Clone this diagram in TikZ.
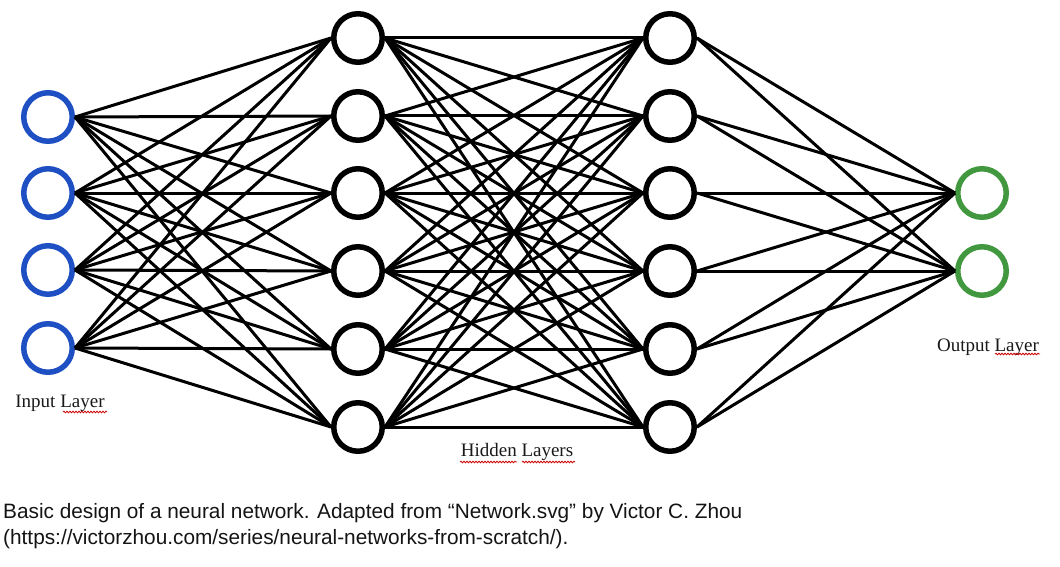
\documentclass[tikz,border=0pt]{standalone}
\usepackage{fontspec}
\setmainfont{Liberation Serif}
\newfontfamily\capfont{Liberation Sans}
\usetikzlibrary{positioning, decorations.pathmorphing}
\definecolor{inblue}{RGB}{30, 80, 196}
\definecolor{outgreen}{RGB}{66, 152, 62}
\definecolor{captext}{RGB}{20, 20, 20}
\tikzset{
  neuron/.style={circle, draw=black, line width=5.5pt, minimum size=48.5pt, inner sep=0pt, fill=white},
  inneuron/.style={neuron, draw=inblue},
  outneuron/.style={neuron, draw=outgreen},
  edge/.style={line width=3pt, black},
  layerlabel/.style={font=\fontsize{19}{22}\selectfont, text=black!90},
  spellmark/.style={red!80!black, line width=0.8pt, decorate, decoration={snake, amplitude=0.8pt, segment length=3pt}}
}
\begin{document}
\begin{tikzpicture}[x=1pt, y=-1pt]
  \useasboundingbox (0,0) rectangle (1060,567);

  % Input layer
  \node[inneuron] (in1) at (48, 117) {};
  \node[inneuron] (in2) at (48, 193) {};
  \node[inneuron] (in3) at (48, 270) {};
  \node[inneuron] (in4) at (48, 348) {};

  % Hidden layers
  \node[neuron] (ha1) at (358, 38) {};
  \node[neuron] (ha2) at (358, 116) {};
  \node[neuron] (ha3) at (358, 193) {};
  \node[neuron] (ha4) at (358, 271) {};
  \node[neuron] (ha5) at (358, 349) {};
  \node[neuron] (ha6) at (358, 427) {};

  \node[neuron] (hb1) at (670, 38) {};
  \node[neuron] (hb2) at (670, 116) {};
  \node[neuron] (hb3) at (670, 193) {};
  \node[neuron] (hb4) at (670, 271) {};
  \node[neuron] (hb5) at (670, 349) {};
  \node[neuron] (hb6) at (670, 427) {};

  % Output layer
  \node[outneuron] (out1) at (982, 193) {};
  \node[outneuron] (out2) at (982, 271) {};

  % Connections
  \foreach \i in {1,...,4}
    \foreach \j in {1,...,6}
      \draw[edge] (in\i.east) -- (ha\j.west);
  \foreach \i in {1,...,6}
    \foreach \j in {1,...,6}
      \draw[edge] (ha\i.east) -- (hb\j.west);
  \foreach \i in {1,...,6}
    \foreach \j in {1,2}
      \draw[edge] (hb\i.east) -- (out\j.west);

  % Layer labels
  \node[layerlabel] (inlabel) at (60, 403) {Input Layer};
  \node[layerlabel] (hidlabel) at (517, 452) {Hidden Layers};
  \node[layerlabel] (outlabel) at (988, 347) {Output Layer};
  \draw[spellmark] (63, 412) -- (107, 412);
  \draw[spellmark] (460, 462) -- (517, 462);
  \draw[spellmark] (522, 462) -- (575, 462);
  \draw[spellmark] (995, 354) -- (1040, 354);

  % Caption
  \node[anchor=base west, inner sep=0pt, text=captext, font=\capfont\fontsize{20.8}{24}\selectfont] (cap1) at (3, 518)
    {Basic design of a neural network. Adapted from “Network.svg” by Victor C. Zhou};
  \node[anchor=base west, inner sep=0pt, text=captext, font=\capfont\fontsize{20.8}{24}\selectfont] (cap2) at (3, 544)
    {(https://victorzhou.com/series/neural-networks-from-scratch/).};
\end{tikzpicture}
\end{document}
